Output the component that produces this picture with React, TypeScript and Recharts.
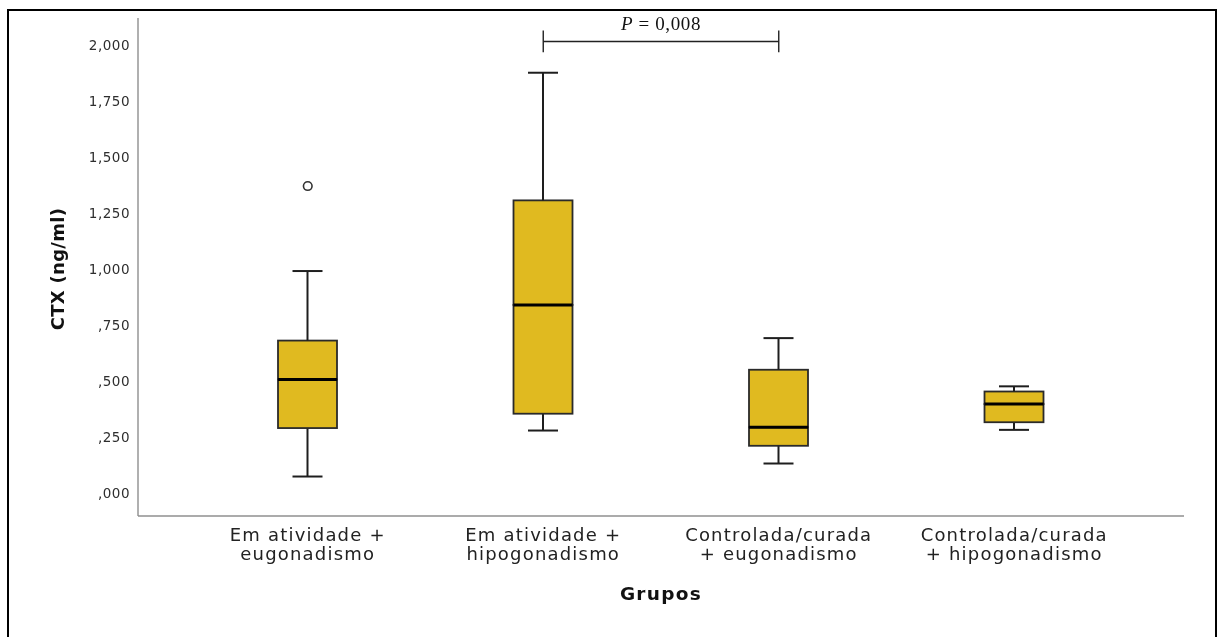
import React from "react";
import {
  ComposedChart,
  Bar,
  XAxis,
  YAxis,
  ReferenceLine,
  ReferenceDot,
} from "recharts";

// ---- data ----
const categories = [
  "Em atividade +\neugonadismo",
  "Em atividade +\nhipogonadismo",
  "Controlada/curada\n+ eugonadismo",
  "Controlada/curada\n+ hipogonadismo",
];
const mins = [0.076, 0.281, 0.134, 0.284];
const q1s = [0.292, 0.356, 0.213, 0.318];
const medians = [0.509, 0.841, 0.296, 0.399];
const q3s = [0.682, 1.307, 0.552, 0.455];
const maxs = [0.992, 1.876, 0.693, 0.478];
const outlierGroups = [0];
const outlierValues = [1.371];
const yTicks = [0, 0.25, 0.5, 0.75, 1, 1.25, 1.5, 1.75, 2];
const yDomain = [-0.1, 2.12];
const compareFrom = 1;
const compareTo = 2;
const compareY = 2.015;
const compareTickTop = 2.064;
const compareTickBottom = 1.967;
const pValueText = "0,008";

const data = categories.map((group, i) => ({
  group,
  base: mins[i],
  lowWhisker: q1s[i] - mins[i],
  boxLow: medians[i] - q1s[i],
  boxHigh: q3s[i] - medians[i],
  highWhisker: maxs[i] - q3s[i],
}));

const BOX_FILL = "#E0BA20";
const INK = "#1e1e1e";
const AXIS = "#8f8f8f";
const CAP = 30;

const fmt = (v: number) => {
  const s = v.toFixed(3).replace(".", ",");
  return s.startsWith("0") ? s.slice(1) : s;
};

const Empty = () => <g />;

const LowWhisker = (p: any) => {
  const cx = p.x + p.width / 2;
  return (
    <g>
      <line x1={cx} x2={cx} y1={p.y} y2={p.y + p.height} stroke={INK} strokeWidth={2} />
      <line x1={cx - CAP / 2} x2={cx + CAP / 2} y1={p.y + p.height} y2={p.y + p.height} stroke={INK} strokeWidth={2} />
    </g>
  );
};

const HighWhisker = (p: any) => {
  const cx = p.x + p.width / 2;
  return (
    <g>
      <line x1={cx} x2={cx} y1={p.y} y2={p.y + p.height} stroke={INK} strokeWidth={2} />
      <line x1={cx - CAP / 2} x2={cx + CAP / 2} y1={p.y} y2={p.y} stroke={INK} strokeWidth={2} />
    </g>
  );
};

const BoxLow = (p: any) => (
  <rect x={p.x} y={p.y} width={p.width} height={p.height} fill={BOX_FILL} stroke="#2a2a2a" strokeWidth={1.8} />
);

const BoxHigh = (p: any) => (
  <g>
    <rect x={p.x} y={p.y} width={p.width} height={p.height} fill={BOX_FILL} stroke="#2a2a2a" strokeWidth={1.8} />
    <line x1={p.x} x2={p.x + p.width} y1={p.y + p.height} y2={p.y + p.height} stroke="#000" strokeWidth={3} />
  </g>
);

const CategoryTick = (p: any) => {
  const lines = String(p.payload.value).split("\n");
  return (
    <text
      x={p.x}
      y={p.y}
      textAnchor="middle"
      fill="#222"
      style={{ fontFamily: "DejaVu Sans", fontSize: 18, letterSpacing: 1.2 }}
    >
      {lines.map((l, i) => (
        <tspan key={i} x={p.x} y={p.y + 17 + i * 19}>
          {l}
        </tspan>
      ))}
    </text>
  );
};

export default function App() {
  return (
    <div>
      <div
        style={{
          position: "fixed",
          left: 7,
          top: 9,
          width: 1210,
          height: 640,
          borderTop: "2px solid #000",
          borderLeft: "2px solid #000",
          borderRight: "2px solid #000",
          boxSizing: "border-box",
        }}
      />
      <div style={{ position: "fixed", left: 0, top: 0 }}>
        <ComposedChart
          width={1217}
          height={637}
          data={data}
          margin={{ top: 18, right: 33, bottom: 21, left: 0 }}
        >
          <XAxis
            dataKey="group"
            type="category"
            height={100}
            interval={0}
            tickLine={false}
            axisLine={{ stroke: AXIS, strokeWidth: 1.6 }}
            padding={{ left: 52, right: 52 }}
            tick={<CategoryTick />}
            label={(lp: any) => {
              const vb = lp.viewBox || {};
              return (
                <text
                  x={vb.x + vb.width / 2}
                  y={vb.y + 84}
                  textAnchor="middle"
                  fill="#111"
                  style={{ fontFamily: "DejaVu Sans", fontSize: 18.5, fontWeight: "bold", letterSpacing: 1.3 }}
                >
                  Grupos
                </text>
              );
            }}
          />
          <YAxis
            type="number"
            width={138}
            domain={yDomain}
            allowDataOverflow
            ticks={yTicks}
            interval={0}
            tickFormatter={fmt}
            tickLine={false}
            axisLine={{ stroke: AXIS, strokeWidth: 1.4 }}
            tick={{ fill: "#2e2e2e", fontSize: 13.5, fontFamily: "DejaVu Sans", letterSpacing: 0.5 }}
            label={(lp: any) => {
              const vb = lp.viewBox || {};
              const cy = vb.y + vb.height / 2 + 2;
              return (
                <text
                  x={64}
                  y={cy}
                  transform={`rotate(-90, 64, ${cy})`}
                  textAnchor="middle"
                  fill="#111"
                  style={{ fontFamily: "DejaVu Sans", fontSize: 18, fontWeight: "bold", letterSpacing: 0.3 }}
                >
                  CTX (ng/ml)
                </text>
              );
            }}
          />
          <Bar dataKey="base" stackId="b" barSize={59} shape={<Empty />} isAnimationActive={false} />
          <Bar dataKey="lowWhisker" stackId="b" barSize={59} shape={<LowWhisker />} isAnimationActive={false} />
          <Bar dataKey="boxLow" stackId="b" barSize={59} shape={<BoxLow />} isAnimationActive={false} />
          <Bar dataKey="boxHigh" stackId="b" barSize={59} shape={<BoxHigh />} isAnimationActive={false} />
          <Bar dataKey="highWhisker" stackId="b" barSize={59} shape={<HighWhisker />} isAnimationActive={false} />
          {outlierGroups.map((g, i) => (
            <ReferenceDot
              key={i}
              x={categories[g]}
              y={outlierValues[i]}
              r={4.3}
              fill="#fff"
              stroke="#333"
              strokeWidth={1.6}
            />
          ))}
          <ReferenceLine
            segment={[
              { x: categories[compareFrom], y: compareY },
              { x: categories[compareTo], y: compareY },
            ]}
            stroke="#222"
            strokeWidth={1.4}
            label={(lp: any) => {
              const vb = lp.viewBox || {};
              const cx = vb.x + (vb.width || 0) / 2;
              return (
                <text
                  x={cx}
                  y={vb.y - 11.5}
                  textAnchor="middle"
                  fill="#111"
                  style={{ fontFamily: "Liberation Serif", fontSize: 19, letterSpacing: 0.6 }}
                >
                  <tspan fontStyle="italic">P</tspan>
                  <tspan> = {pValueText}</tspan>
                </text>
              );
            }}
          />
          <ReferenceLine
            segment={[
              { x: categories[compareFrom], y: compareTickTop },
              { x: categories[compareFrom], y: compareTickBottom },
            ]}
            stroke="#222"
            strokeWidth={1.4}
          />
          <ReferenceLine
            segment={[
              { x: categories[compareTo], y: compareTickTop },
              { x: categories[compareTo], y: compareTickBottom },
            ]}
            stroke="#222"
            strokeWidth={1.4}
          />
        </ComposedChart>
      </div>
    </div>
  );
}
